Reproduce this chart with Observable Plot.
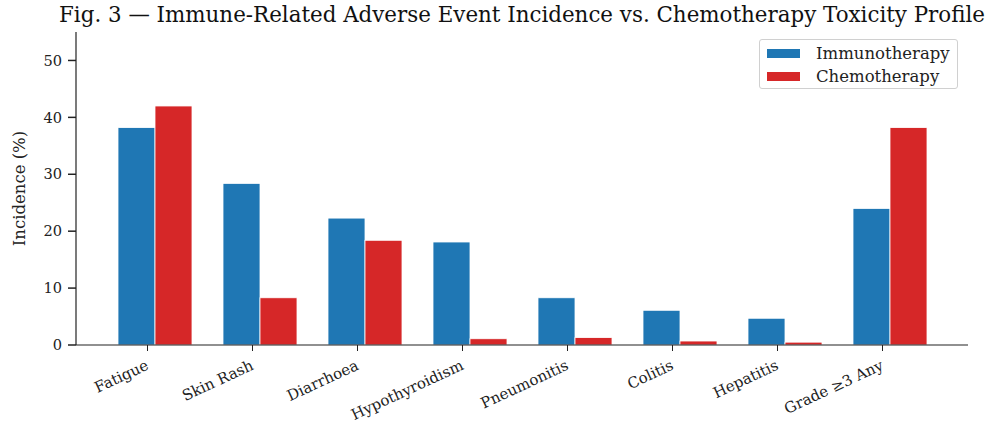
<!DOCTYPE html>
<html><head><meta charset="utf-8">
<script src="https://cdn.jsdelivr.net/npm/d3@7"></script>
<script src="https://cdn.jsdelivr.net/npm/@observablehq/plot@0.6"></script>
<style>
body{margin:0;background:#fff;font-family:"DejaVu Serif",serif;color:#222;}
#wrap{position:relative;width:985px;height:423px;overflow:hidden;}
#title{position:absolute;left:0;width:1044px;top:2px;text-align:center;font-size:21.4px;line-height:26px;white-space:nowrap;color:#111;}
#chart{position:absolute;left:0;top:30px;}
#legend{position:absolute;left:759px;top:39px;width:199px;height:50px;box-sizing:border-box;border:1px solid #d0d0d0;border-radius:3px;background:rgba(255,255,255,0.85);font-size:16.5px;}
.row{position:absolute;left:7px;height:22px;display:flex;align-items:center;}
.sw{width:33px;height:9px;margin-right:16px;}
</style></head><body>
<div id="wrap">
<div id="chart"></div>
<div id="title">Fig. 3 — Immune-Related Adverse Event Incidence vs. Chemotherapy Toxicity Profile</div>
<div id="legend"></div>
</div>
<script>
const categories = ["Fatigue","Skin Rash","Diarrhoea","Hypothyroidism","Pneumonitis","Colitis","Hepatitis","Grade ≥3 Any"];
const immunotherapy = [38.2, 28.4, 22.3, 18.1, 8.3, 6.1, 4.7, 24.0];
const chemotherapy = [42.0, 8.3, 18.4, 1.1, 1.3, 0.7, 0.5, 38.2];
const seriesNames = ["Immunotherapy","Chemotherapy"];
const colors = ["#1f77b4","#d62728"];
const yTicks = [0,10,20,30,40,50];

const data = categories.flatMap((c,i)=>[
  {category:c, series:seriesNames[0], value:immunotherapy[i]},
  {category:c, series:seriesNames[1], value:chemotherapy[i]}
]);

const W = 985, H = 393, mL = 76, mR = 17, mT = 2, mB = 78;
const fxOpts = {domain: categories, paddingInner: 0.3, paddingOuter: 0.385};
let off = 0;
try {
  const fxs = Plot.scale({fx: {...fxOpts, range: [mL, W - mR]}});
  off = fxs.apply(categories[0]) - mL;
} catch (e) {
  off = d3.scaleBand().domain(categories).range([mL, W - mR]).paddingInner(0.3).paddingOuter(0.385)(categories[0]) - mL;
}

const plot = Plot.plot({
  width: W, height: H, marginLeft: mL, marginRight: mR, marginTop: mT, marginBottom: mB,
  style: {fontFamily: "DejaVu Serif", fontSize: "14.5px", color: "#222", background: "white", overflow: "visible"},
  fx: {...fxOpts, label: null, axis: null},
  x: {domain: seriesNames, padding: 0, axis: null},
  y: {domain: [0, 55], label: null, axis: null},
  color: {domain: seriesNames, range: colors},
  marks: [
    Plot.barY(data, {fx: "category", x: "series", y: "value", fill: "series", stroke: "white", strokeWidth: 0.8}),
    Plot.axisY({ticks: yTicks, tickSize: 0, tickPadding: 0, dx: -off - 16, label: null, fontSize: 14.6}),
    Plot.axisFx({anchor: "bottom", tickRotate: -25, tickSize: 6, tickPadding: 13, dx: -8, stroke: "#222", label: null, fontSize: 15})
  ]
});
document.getElementById("chart").appendChild(plot);

const svg = d3.select(plot);
const ys = plot.scale("y");
const y0 = ys.apply(0);
const yTop = ys.apply(55);
svg.append("line").attr("x1", mL).attr("x2", W - mR).attr("y1", y0).attr("y2", y0).attr("stroke", "#222").attr("stroke-width", 1.2);
svg.append("line").attr("x1", mL).attr("x2", mL).attr("y1", y0).attr("y2", yTop).attr("stroke", "#222").attr("stroke-width", 1.2);
yTicks.forEach(t => {
  const yy = ys.apply(t);
  svg.append("line").attr("x1", mL - 8).attr("x2", mL).attr("y1", yy).attr("y2", yy).attr("stroke", "#222").attr("stroke-width", 1.5);
});
svg.append("text").text("Incidence (%)")
  .attr("transform", `translate(25,${(y0 + yTop) / 2}) rotate(-90)`)
  .attr("text-anchor", "middle").attr("font-size", 16.5).attr("font-family", "DejaVu Serif").attr("fill", "#222");

const lg = document.getElementById("legend");
seriesNames.forEach((s, i) => {
  const r = document.createElement("div");
  r.className = "row";
  r.style.top = (2 + i * 23) + "px";
  r.innerHTML = `<div class="sw" style="background:${colors[i]}"></div><span>${s}</span>`;
  lg.appendChild(r);
});
</script>
</body></html>
